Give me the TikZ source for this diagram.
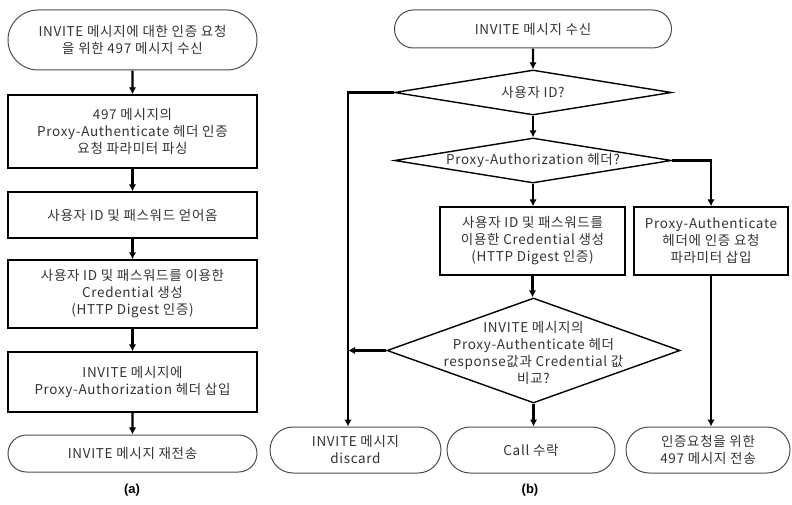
\documentclass[tikz,border=0pt]{standalone}
\usepackage{fontspec}
\setmainfont[LetterSpace=5]{Noto Sans CJK KR}
\newfontfamily\capfont{Liberation Sans}
\usetikzlibrary{shapes.geometric,shapes.misc,arrows.meta}
\tikzset{>={Latex[length=7pt,width=7.5pt]}}
\tikzset{
  every node/.style = {font=\fontsize{13.5}{17}\selectfont, text=black!80, align=center},
  term/.style = {rounded rectangle, draw=black!70, line width=1pt, inner sep=0pt},
  proc/.style = {rectangle, draw, line width=1.4pt, inner sep=0pt},
  cond/.style = {diamond, draw, line width=1.4pt, inner sep=0pt, shape aspect=6},
  flow/.style = {->, line width=2.2pt},
  caption/.style = {font=\capfont\bfseries\fontsize{13}{15}\selectfont, text=black}
}

\begin{document}
\begin{tikzpicture}[x=1pt,y=-1pt]
  \useasboundingbox (0,0) rectangle (792,505);
  % (a)
  \node[term, minimum width=249pt, minimum height=60pt] (a1) at (132.5,40) {INVITE 메시지에 대한 인증 요청\\을 위한 497 메시지 수신};
  \node[proc, minimum width=249pt, minimum height=73pt] (a2) at (132.5,131.5) {497 메시지의\\Proxy-Authenticate 헤더 인증\\요청 파라미터 파싱};
  \node[proc, minimum width=249pt, minimum height=46pt] (a3) at (132.5,215) {사용자 ID 및 패스워드 얻어옴};
  \node[proc, minimum width=249pt, minimum height=68pt] (a4) at (132.5,294) {사용자 ID 및 패스워드를 이용한\\Credential 생성\\(HTTP Digest 인증)};
  \node[proc, minimum width=249pt, minimum height=60pt] (a5) at (132.5,382) {INVITE 메시지에\\Proxy-Authorization 헤더 삽입};
  \node[term, minimum width=249pt, minimum height=37pt] (a6) at (132.5,453.5) {INVITE 메시지 재전송};
  \node[caption] (capa) at (132,490) {(a)};
  \foreach \i/\j in {a1/a2,a2/a3,a3/a4,a4/a5,a5/a6}
    \draw[flow] (\i) -- (\j);
  % (b)
  \node[term, minimum width=277pt, minimum height=38pt] (b1) at (533,29) {INVITE 메시지 수신};
  \node[cond, minimum width=277pt, minimum height=45pt] (b2) at (533,92.5) {사용자 ID?};
  \node[cond, minimum width=277pt, minimum height=45pt] (b3) at (533,160.5) {Proxy-Authorization 헤더?};
  \node[proc, minimum width=185pt, minimum height=68pt] (b4) at (532.5,241) {사용자 ID 및 패스워드를\\이용한 Credential 생성\\(HTTP Digest 인증)};
  \node[proc, minimum width=154pt, minimum height=68pt] (b5) at (711,241) {Proxy-Authenticate\\헤더에 인증 요청\\파라미터 삽입};
  \node[cond, minimum width=293pt, minimum height=105pt] (b6) at (533.5,350.5) {};
  \node (b6txt) at (533.5,353) {INVITE 메시지의\\Proxy-Authenticate 헤더\\response값과 Credential 값\\비교?};
  \node[term, minimum width=171pt, minimum height=46pt] (b7) at (355.5,450) {INVITE 메시지\\discard};
  \node[term, minimum width=168pt, minimum height=46pt] (b8) at (531,450) {Call 수락};
  \node[term, minimum width=164pt, minimum height=46pt] (b9) at (708,450) {인증요청을 위한\\497 메시지 전송};
  \node[caption] (capb) at (530,490) {(b)};
  \coordinate (join) at (348,350.5);
  \draw[flow] (b1) -- (b2);
  \draw[flow] (b2) -- (b3);
  \draw[flow] (b3.south) -- (b3.south |- b4.north);
  \draw[flow] (b3.east) -| (b5.north);
  \draw[flow] (b4.south) -- (b4.south |- b6.north);
  \draw[flow] (b2.west) -| (join) -- (join |- b7.north);
  \draw[flow] (b6.west) -- (join);
  \draw[flow] (b6.south) -- (b6.south |- b8.north);
  \draw[flow] (b5.south) -- (b5.south |- b9.north);
\end{tikzpicture}
\end{document}
